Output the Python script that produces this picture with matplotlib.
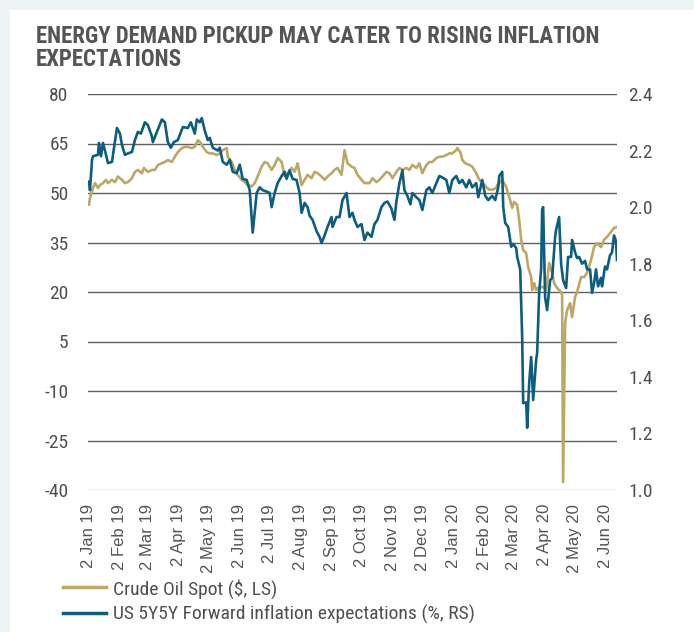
import numpy as np
import pandas as pd
import matplotlib
matplotlib.use("Agg")
import matplotlib.pyplot as plt
import matplotlib.transforms as mtransforms
from matplotlib.lines import Line2D
from matplotlib.patches import Rectangle

# data, days counted from 2 Jan 2019
start = pd.Timestamp("2019-01-02")

oil_day = [0, 1, 4, 6, 9, 11, 14, 17, 19, 23, 26, 29, 33, 36, 39, 43, 46, 49, 53, 55,
           59, 63, 66, 69, 73, 76, 79, 83, 86, 89, 93, 96, 99, 103, 106, 109, 112, 114, 118, 121,
           124, 128, 131, 134, 138, 139, 143, 146, 149, 153, 156, 159, 163, 166, 169, 173, 176, 179, 183, 186,
           189, 193, 196, 199, 203, 206, 209, 213, 216, 219, 223, 226, 229, 233, 236, 239, 243, 246, 249, 253,
           256, 259, 263, 266, 269, 273, 276, 281, 284, 288, 291, 294, 298, 301, 304, 308, 311, 314, 318, 321,
           324, 328, 331, 334, 338, 341, 344, 348, 351, 354, 358, 361, 364, 368, 369, 372, 374, 377, 381, 384,
           388, 391, 394, 398, 401, 404, 408, 409, 411, 414, 418, 421, 424, 426, 429, 431, 433, 435, 438, 440,
           443, 444, 446, 448, 450, 453, 455, 458, 461, 464, 466, 469, 473, 474, 475, 477, 479, 482, 484, 487,
           489, 493, 496, 499, 503, 506, 509, 513, 516, 519, 523, 526, 529]
oil_val = [46.5, 48.5, 51.5, 53, 51.5, 52.4, 53, 54, 53, 54, 53.3, 55, 54, 53, 53.3, 54.5, 56.4, 57, 56, 57.6,
           56.4, 57, 57, 58.5, 59, 59.4, 60, 59.4, 61, 62.4, 63.6, 64, 64, 63.6, 64, 66, 65.2, 64, 62.4, 62,
           62, 61.5, 62, 63, 63.6, 61, 59.4, 57, 55.5, 54, 53.3, 52.4, 52, 53, 55, 58, 59.4, 59, 57, 58.5,
           60.6, 59.4, 55, 56, 57.6, 56.4, 59, 52.4, 54, 55.5, 54.5, 56.4, 56, 55, 54, 55, 56, 57, 57.6, 55.5,
           63, 59, 58, 57.6, 55.5, 54, 53, 53, 54.5, 53.3, 54, 55, 56.4, 56, 54.5, 56.4, 57.6, 57, 57.6, 57,
           58.5, 57.6, 59, 56, 58.5, 59.4, 59.4, 60.6, 61, 61, 61.5, 62, 62, 63, 63.6, 62.4, 60, 59, 58.5, 58,
           56, 54, 53.3, 51.8, 51, 51, 51.5, 52.4, 53, 54, 51.8, 48.8, 45.5, 47.3, 46.4, 41.8, 35.8, 32.7, 31.8, 27.6,
           24.5, 20.6, 22.7, 20.6, 21.2, 21.5, 21.5, 20.6, 28.8, 25.8, 22.7, 21.2, 20, 19.1, -37.6, 10.6, 14.5, 16.6, 12.4, 18.5,
           20, 24.5, 24.5, 25.8, 29.7, 33.6, 34.8, 33.6, 35.8, 36.7, 38.2, 39.4, 39.7]

infl_day = [0, 1, 3, 4, 9, 10, 12, 14, 16, 19, 23, 28, 31, 33, 36, 39, 43, 46, 49, 52,
            56, 59, 63, 64, 68, 73, 76, 79, 82, 85, 89, 94, 99, 102, 106, 108, 111, 113, 116, 119,
            121, 124, 129, 131, 134, 138, 141, 144, 148, 151, 154, 158, 161, 164, 168, 171, 174, 178, 181, 183,
            186, 189, 193, 196, 198, 201, 204, 208, 211, 213, 216, 219, 221, 224, 228, 231, 233, 236, 239, 243,
            244, 248, 251, 254, 258, 261, 264, 266, 269, 273, 276, 279, 283, 286, 289, 293, 296, 299, 303, 306,
            308, 311, 314, 316, 319, 322, 324, 328, 331, 334, 338, 341, 344, 348, 351, 354, 358, 361, 364, 368,
            371, 374, 378, 381, 384, 388, 390, 394, 397, 400, 404, 407, 410, 411, 414, 415, 417, 420, 423, 425,
            428, 429, 432, 434, 435, 438, 439, 441, 443, 445, 448, 449, 451, 453, 454, 455, 457, 459, 462, 464,
            467, 468, 471, 473, 475, 478, 480, 483, 484, 487, 489, 491, 494, 497, 499, 502, 504, 506, 508, 510,
            513, 514, 517, 519, 522, 524, 526, 528, 529]
infl_val = [2.09, 2.06, 2.167, 2.18, 2.185, 2.227, 2.18, 2.227, 2.20, 2.156, 2.16, 2.28, 2.26, 2.22, 2.185, 2.19, 2.195, 2.237, 2.266, 2.26,
            2.30, 2.29, 2.25, 2.23, 2.266, 2.31, 2.30, 2.23, 2.21, 2.23, 2.237, 2.283, 2.28, 2.30, 2.26, 2.31, 2.30, 2.315, 2.27, 2.237,
            2.245, 2.21, 2.20, 2.21, 2.16, 2.15, 2.167, 2.125, 2.12, 2.15, 2.10, 2.096, 2.06, 1.91, 2.05, 2.07, 2.06, 2.055, 2.05, 2.0,
            2.05, 2.085, 2.11, 2.125, 2.10, 2.13, 2.10, 2.096, 2.05, 1.98, 2.015, 2.0, 1.97, 1.955, 1.915, 1.895, 1.873, 1.90, 1.93, 1.965,
            1.93, 1.965, 1.965, 2.025, 2.05, 1.965, 1.98, 1.955, 1.93, 1.94, 1.884, 1.91, 1.895, 1.94, 1.955, 2.0, 2.015, 2.02, 1.995, 1.955,
            2.02, 2.085, 2.13, 2.06, 2.04, 2.01, 2.05, 2.035, 2.025, 1.99, 2.06, 2.07, 2.05, 2.085, 2.11, 2.105, 2.096, 2.05, 2.096, 2.11,
            2.085, 2.096, 2.07, 2.096, 2.07, 2.085, 2.035, 2.096, 2.04, 2.025, 2.04, 2.025, 2.07, 2.11, 2.125, 2.0, 1.944, 1.93, 1.86, 1.87,
            1.855, 1.824, 1.78, 1.54, 1.307, 1.31, 1.22, 1.378, 1.47, 1.318, 1.46, 1.485, 1.697, 1.78, 1.99, 2.0, 1.68, 1.636, 1.742, 1.75,
            1.895, 1.92, 1.965, 1.80, 1.742, 1.714, 1.824, 1.824, 1.884, 1.84, 1.82, 1.824, 1.80, 1.81, 1.78, 1.78, 1.697, 1.73, 1.78, 1.72,
            1.75, 1.72, 1.79, 1.78, 1.83, 1.84, 1.90, 1.88, 1.813]

tick_dates = pd.date_range("2019-01-01", "2020-06-01", freq="MS") + pd.Timedelta(days=1)
tick_labels = [d.strftime("%-d %b %y") for d in tick_dates]
left_ticks = [80, 65, 50, 35, 20, 5, -10, -25, -40]
right_ticks = [2.4, 2.2, 2.0, 1.8, 1.6, 1.4, 1.2, 1.0]

gold = "#bca766"
blue = "#0b5e7d"
cond = ["Roboto Condensed", "DejaVu Sans"]

oil_dates = start + pd.to_timedelta(oil_day, unit="D")
infl_dates = start + pd.to_timedelta(infl_day, unit="D")

fig = plt.figure(figsize=(6.94, 6.32), dpi=100)
fig.patch.set_facecolor("#eef4f6")
fig.patches.append(Rectangle((10 / 694, 0), 1, 1 - 10 / 632, transform=fig.transFigure,
                             facecolor="white", edgecolor="none", zorder=-5))

ax = fig.add_axes([88 / 694, 142 / 632, 529 / 694, 396 / 632])
ax.set_facecolor("none")
ax2 = ax.twinx()

ax.plot(oil_dates, oil_val, color=gold, lw=1.9, zorder=3)
ax2.plot(infl_dates, infl_val, color=blue, lw=1.9, zorder=3)

ax.set_ylim(-40, 80)
ax2.set_ylim(1.0, 2.4)
ax.set_xlim(start - pd.Timedelta(days=1), start + pd.Timedelta(days=529))
ax.set_yticks(left_ticks)
ax.set_yticklabels([str(v) for v in left_ticks], family=cond, fontsize=14, color="#505050")
ax2.set_yticks(right_ticks)
ax2.set_yticklabels([f"{v:.1f}" for v in right_ticks], family=cond, fontsize=14, color="#505050")
ax.set_xticks(tick_dates)
ax.set_xticklabels(tick_labels, rotation=90, fontsize=12, color="#555555",
                   family=["Liberation Sans", "DejaVu Sans"])
shift = mtransforms.ScaledTranslation(3 / 100, 0, fig.dpi_scale_trans)
for lab in ax.get_xticklabels():
    lab.set_transform(lab.get_transform() + shift)

for v in left_ticks:
    ax.axhline(v, color="#b4b4b4" if v == -40 else "#606060", lw=1.0, zorder=1)

for a in (ax, ax2):
    for s in a.spines.values():
        s.set_visible(False)
    a.tick_params(length=0)
ax.tick_params(axis="y", pad=14)
ax2.tick_params(axis="y", pad=8)
ax.tick_params(axis="x", pad=10)

fig.text(36 / 694, 1 - 48 / 632, "ENERGY DEMAND PICKUP MAY CATER TO RISING INFLATION\nEXPECTATIONS",
         family=cond, fontweight="bold", fontsize=16.5,
         color="#555555", va="center", ha="left", linespacing=1.0)

handles = [Line2D([], [], color=gold, lw=2.5), Line2D([], [], color=blue, lw=2.5)]
fig.legend(handles, ["Crude Oil Spot ($, LS)", "US 5Y5Y Forward inflation expectations (%, RS)"],
           loc="upper left", bbox_to_anchor=(55 / 694, 1 - 571 / 632), frameon=False,
           prop={"family": cond, "size": 14}, labelcolor="#505050",
           handlelength=2.2, handletextpad=0.4, labelspacing=0.32, borderaxespad=0)

fig.savefig("out.png", dpi=100, facecolor=fig.get_facecolor())
